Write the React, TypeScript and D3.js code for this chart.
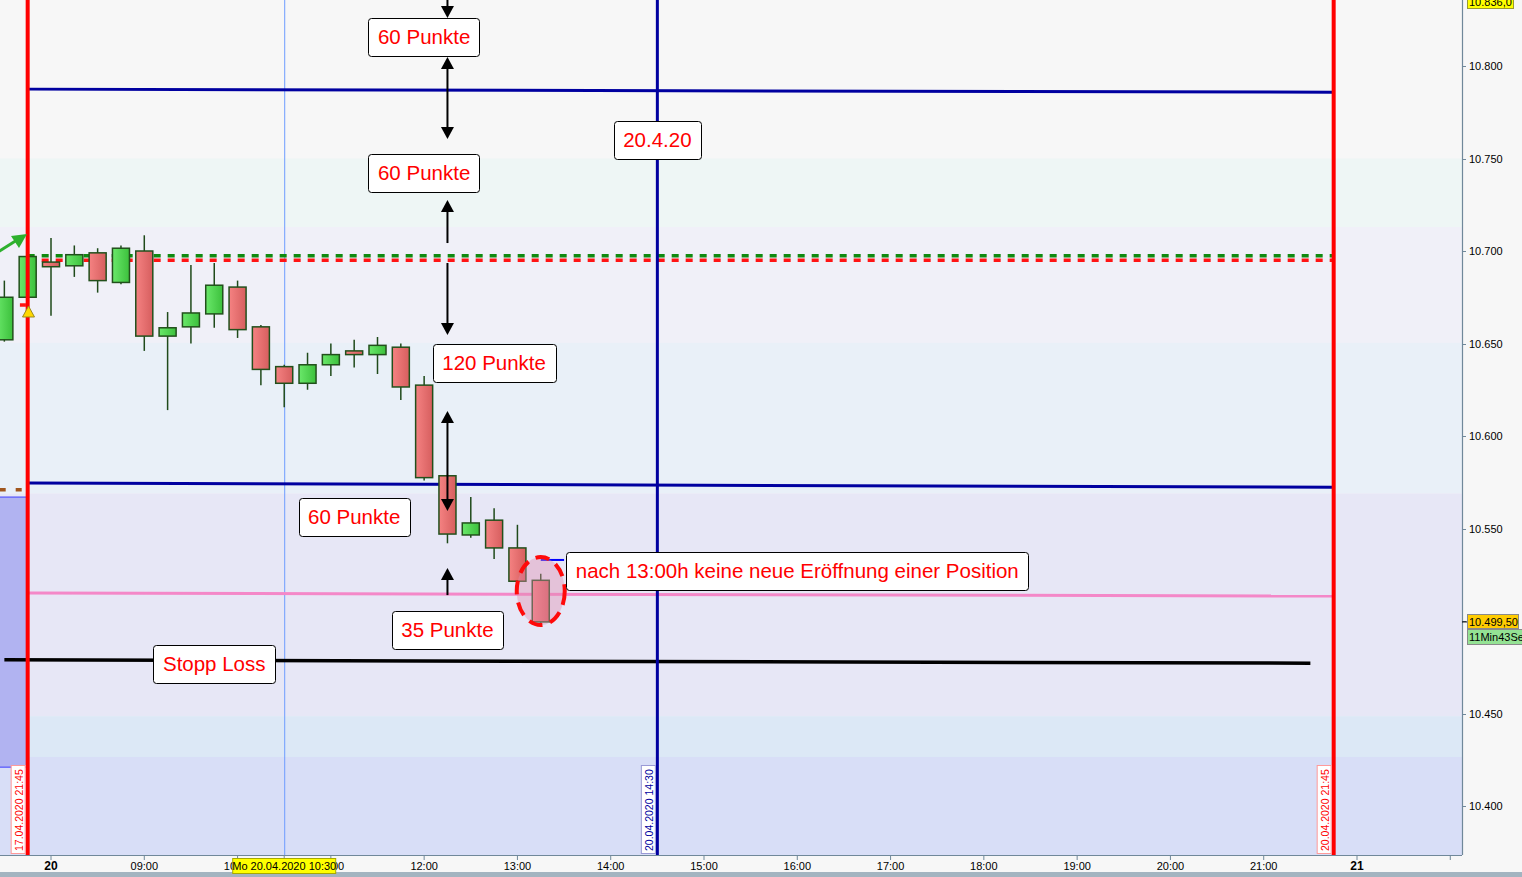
import React, { useMemo } from 'react';
import * as d3 from 'd3';

// ---------- data ----------
const candleTimes = ["07:30","07:45","08:00","08:15","08:30","08:45","09:00","09:15","09:30","09:45","10:00","10:15","10:30","10:45","11:00","11:15","11:30","11:45","12:00","12:15","12:30","12:45","13:00","13:15"];
const opens  = [10652,10675,10694,10692,10699,10683,10700,10654,10659,10666,10680.5,10659,10637.5,10628.5,10638.5,10646,10644,10648,10627.5,10578.5,10546.5,10554.5,10539.5,10522];
const highs  = [10684,10698,10707,10703,10701.5,10703,10708.5,10667,10692.5,10693.5,10684,10660,10638.5,10645,10650,10652,10653.5,10650,10632.5,10579,10567,10561,10552,10525.5];
const lows   = [10651,10674,10665,10686,10677.5,10682,10646,10614,10650,10658.5,10653,10627.5,10615.5,10625,10632.5,10637,10633.5,10619.5,10576,10542,10545,10533.5,10521,10499];
const closes = [10675,10697,10691.5,10698,10684,10701.5,10654,10658.5,10666.5,10681.5,10657.5,10636,10628.5,10638.5,10644,10644,10649,10626.5,10577.5,10547,10553,10539.5,10521.5,10499.5];

const yTicks = [10400,10450,10500,10550,10600,10650,10700,10750,10800];
const hourTicks = ["09:00","10:00","11:00","12:00","13:00","14:00","15:00","16:00","17:00","18:00","19:00","20:00","21:00"];
const dayTicks = [{ time: "08:00", label: "20" }, { time: "22:00", label: "21" }];
const minorTicks = ["23:00"];

const priceBands = [
  { from: 10840, to: 10750, color: "#f7f7f7" },
  { from: 10750, to: 10713, color: "#eef6f5" },
  { from: 10713, to: 10650.3, color: "#f0f0f8" },
  { from: 10650.3, to: 10569, color: "#e9f0f8" },
  { from: 10569, to: 10448.6, color: "#e7e7f6" },
  { from: 10448.6, to: 10426.5, color: "#dce8f6" },
  { from: 10426.5, to: 10360, color: "#d8def7" },
];

const vLines = [
  { time: "07:45", label: "17.04.2020 21:45", color: "#ff0000", text: "#ff0000", border: "#ff9a9a", width: 4 },
  { time: "14:30", label: "20.04.2020 14:30", color: "#0000a0", text: "#0000a0", border: "#9a9ad6", width: 3 },
  { time: "21:45", label: "20.04.2020 21:45", color: "#ff0000", text: "#ff0000", border: "#ff9a9a", width: 4 },
];

const hLines = [
  { t0: "07:45", t1: "21:45", p0: 10787.5, p1: 10785.8, color: "#0000a0", width: 3, dash: "" },
  { t0: "07:45", t1: "21:45", p0: 10574.6, p1: 10572.3, color: "#0000a0", width: 3, dash: "" },
  { t0: "07:45", t1: "21:45", p0: 10515.1, p1: 10513.5, color: "#f488c8", width: 3, dash: "" },
  { t0: "07:30", t1: "21:30", p0: 10479, p1: 10477.2, color: "#000000", width: 3.5, dash: "" },
  { t0: "07:45", t1: "21:45", p0: 10697.5, p1: 10697.5, color: "#108a10", width: 3.5, dash: "7,7" },
  { t0: "07:45", t1: "21:45", p0: 10695, p1: 10695, color: "#ff1414", width: 3.5, dash: "7,7" },
  { t0: "07:31", t1: "07:48", p0: 10670.8, p1: 10670.8, color: "#ff1414", width: 3.5, dash: "6,8" },
  { t0: "07:27", t1: "07:45", p0: 10571, p1: 10571, color: "#a0561e", width: 3.5, dash: "6,10" },
  { t0: "13:15", t1: "13:30", p0: 10533, p1: 10533, color: "#0000ff", width: 2, dash: "" },
];

const annotations = [
  { time: "12:00", price: 10815.7, text: "60 Punkte" },
  { time: "12:00", price: 10742.4, text: "60 Punkte" },
  { time: "14:30", price: 10760, text: "20.4.20" },
  { time: "12:45", price: 10639.2, text: "120 Punkte" },
  { time: "11:15", price: 10556.2, text: "60 Punkte" },
  { time: "12:15", price: 10495.1, text: "35 Punkte" },
  { time: "16:00", price: 10527, text: "nach 13:00h keine neue Eröffnung einer Position" },
  { time: "09:45", price: 10476.8, text: "Stopp Loss" },
];

// arrows: from price p0 (tail or tip) to tip p1; double = heads on both ends
const arrows = [
  { time: "12:15", p0: 10840, p1: 10825.9, double: false },
  { time: "12:15", p0: 10804.9, p1: 10760.5, double: true },
  { time: "12:15", p0: 10704.3, p1: 10727.6, double: false },
  { time: "12:15", p0: 10693.5, p1: 10654.6, double: false },
  { time: "12:15", p0: 10613.5, p1: 10559.5, double: true },
  { time: "12:15", p0: 10514, p1: 10528.6, double: false },
];

const zoneBox = { t0: "07:27", t1: "07:45", p0: 10567, p1: 10421 };
const highlight = { time: "13:15", price: 10516.2 };
const crosshair = { time: "10:30", label: "Mo 20.04.2020 10:30" };
const topPrice = 10836.0;
const lastPrice = 10499.5;
const timerLabel = "11Min43Se";

// ---------- helpers ----------
const toDate = (s: string) => {
  const [h, m] = s.split(":").map(Number);
  return new Date(2020, 3, 20, h, m);
};
const de = d3.formatLocale({ decimal: ",", thousands: ".", grouping: [3], currency: ["", "€"] });
const fmtTick = de.format(",.0f");
const fmt2 = de.format(",.2f");
const fmt1 = de.format(",.1f");

const FONT = "'Liberation Sans', Arial, sans-serif";
const ANN_SIZE = 20.5;

let _ctx: CanvasRenderingContext2D | null = null;
const measure = (text: string, font: string) => {
  if (!_ctx) _ctx = document.createElement("canvas").getContext("2d");
  if (!_ctx) return text.length * 10;
  _ctx.font = font;
  return _ctx.measureText(text).width;
};

export default function App() {
  const W = 1522, H = 877;
  const plotR = 1462, plotB = 855;

  const x = useMemo(() => d3.scaleTime().domain([toDate("08:00"), toDate("22:00")]).range([51, 1357]), []);
  const y = useMemo(() => d3.scaleLinear().domain([10400, 10800]).range([806, 66]), []);

  const step = x(toDate("08:15")) - x(toDate("08:00"));
  const bw = step * 0.73;

  const arrowHead = (xx: number, tip: number, dir: number) => {
    const L = 12, hw = 6.5;
    return `M${xx},${tip} L${xx - hw},${tip - dir * L} L${xx + hw},${tip - dir * L} Z`;
  };

  return (
    <svg width={W} height={H} style={{ position: "absolute", left: 0, top: 0, fontFamily: FONT }}>
      <defs>
        <linearGradient id="gUp" x1="0" x2="1" y1="0" y2="0">
          <stop offset="0" stopColor="#6ae86a" />
          <stop offset="1" stopColor="#3cc03c" />
        </linearGradient>
        <linearGradient id="gDn" x1="0" x2="1" y1="0" y2="0">
          <stop offset="0" stopColor="#f58282" />
          <stop offset="1" stopColor="#d65e5e" />
        </linearGradient>
        <clipPath id="plotClip"><rect x={0} y={0} width={plotR} height={plotB} /></clipPath>
      </defs>

      <rect x={0} y={0} width={W} height={H} fill="#f7f7f7" />
      <rect x={0} y={872} width={W} height={5} fill="#a3b4c0" />

      <g clipPath="url(#plotClip)">
        {priceBands.map((b, i) => (
          <rect key={i} x={0} y={y(b.from)} width={plotR} height={y(b.to) - y(b.from)} fill={b.color} />
        ))}

        <rect x={x(toDate(zoneBox.t0))} y={y(zoneBox.p0)} width={x(toDate(zoneBox.t1)) - x(toDate(zoneBox.t0))}
          height={y(zoneBox.p1) - y(zoneBox.p0)} fill="#b1b3f1" />
        <line x1={x(toDate(zoneBox.t0))} x2={x(toDate(zoneBox.t1))} y1={y(zoneBox.p0)} y2={y(zoneBox.p0)} stroke="#3c3cff" strokeWidth={1} />
        <line x1={x(toDate(zoneBox.t0))} x2={x(toDate(zoneBox.t1))} y1={y(zoneBox.p1)} y2={y(zoneBox.p1)} stroke="#3c3cff" strokeWidth={1} />

        <line x1={x(toDate(crosshair.time)) + 0.5} x2={x(toDate(crosshair.time)) + 0.5} y1={0} y2={plotB} stroke="#6e9cff" strokeWidth={1} />

        {hLines.map((l, i) => (
          <line key={i} x1={x(toDate(l.t0))} x2={x(toDate(l.t1))} y1={y(l.p0)} y2={y(l.p1)}
            stroke={l.color} strokeWidth={l.width} strokeDasharray={l.dash || undefined} />
        ))}

        {candleTimes.map((t, i) => {
          const cx = x(toDate(t));
          const up = closes[i] >= opens[i];
          const top = y(Math.max(opens[i], closes[i]));
          const bot = y(Math.min(opens[i], closes[i]));
          return (
            <g key={t}>
              <line x1={cx} x2={cx} y1={y(highs[i])} y2={y(lows[i])} stroke="#1f4a1a" strokeWidth={1.5} />
              <rect x={cx - bw / 2} y={top} width={bw} height={Math.max(1, bot - top)}
                fill={up ? "url(#gUp)" : "url(#gDn)"} stroke="#22501c" strokeWidth={1.5} />
            </g>
          );
        })}

        <ellipse cx={x(toDate(highlight.time))} cy={y(highlight.price)} rx={24} ry={34}
          fill="rgba(225,140,175,0.4)" stroke="#ff0a0a" strokeWidth={4} strokeDasharray="14,8" />

        {vLines.map((v, i) => {
          const vx = x(toDate(v.time));
          const bx = vx - v.width / 2 - 15;
          return (
            <g key={i}>
              <line x1={vx} x2={vx} y1={0} y2={plotB} stroke={v.color} strokeWidth={v.width} />
              <rect x={bx + 0.5} y={765.5} width={14} height={88} fill="#ffffff" stroke={v.border} strokeWidth={1} />
              <text transform={`translate(${bx + 12},${851}) rotate(-90)`} fontSize={10.5} fill={v.text}>{v.label}</text>
            </g>
          );
        })}

        <line x1={-2} y1={252} x2={17} y2={240} stroke="#2eb02e" strokeWidth={3} />
        <path d="M27,234 L11,236 L19,248 Z" fill="#2eb02e" />
        <path d="M28.5,306 L22.5,317 L34.5,317 Z" fill="#ffd800" stroke="#9a8a20" strokeWidth={1} />

        {arrows.map((a, i) => {
          const ax = x(toDate(a.time));
          const y0 = y(a.p0), y1 = y(a.p1);
          const dir = y1 > y0 ? 1 : -1;
          return (
            <g key={i}>
              <line x1={ax} x2={ax} y1={y0 + (a.double ? dir * 8 : 0)} y2={y1 - dir * 8} stroke="#000" strokeWidth={2} />
              <path d={arrowHead(ax, y1, dir)} fill="#000" />
              {a.double && <path d={arrowHead(ax, y0, -dir)} fill="#000" />}
            </g>
          );
        })}

        {annotations.map((a, i) => {
          const tw = measure(a.text, `${ANN_SIZE}px ${FONT}`);
          const w = tw + 19, h = 38;
          const cx = x(toDate(a.time)), cy = y(a.price);
          return (
            <g key={i}>
              <rect x={Math.round(cx - w / 2) + 0.5} y={Math.round(cy - h / 2) + 0.5} width={Math.round(w)} height={h}
                rx={3} fill="#ffffff" stroke="#000" strokeWidth={1} />
              <text x={cx} y={cy + 7} textAnchor="middle" fontSize={ANN_SIZE} fill="#ff0000">{a.text}</text>
            </g>
          );
        })}
      </g>

      <line x1={0} x2={plotR} y1={plotB + 0.5} y2={plotB + 0.5} stroke="#70889a" strokeWidth={1.2} />
      <line x1={plotR + 0.5} x2={plotR + 0.5} y1={0} y2={plotB} stroke="#70889a" strokeWidth={1.2} />

      {yTicks.map(v => (
        <g key={v}>
          <line x1={plotR} x2={plotR + 4} y1={Math.round(y(v)) + 0.5} y2={Math.round(y(v)) + 0.5} stroke="#70889a" />
          <text x={plotR + 7} y={y(v) + 4} fontSize={11} fill="#000">{fmtTick(v)}</text>
        </g>
      ))}

      {hourTicks.map(t => (
        <g key={t}>
          <line x1={x(toDate(t))} x2={x(toDate(t))} y1={plotB} y2={plotB + 5} stroke="#70889a" />
          <text x={x(toDate(t))} y={870} fontSize={11} textAnchor="middle" fill="#000">{t}</text>
        </g>
      ))}
      {dayTicks.map(d => (
        <g key={d.label}>
          <line x1={x(toDate(d.time))} x2={x(toDate(d.time))} y1={plotB} y2={plotB + 5} stroke="#70889a" />
          <text x={x(toDate(d.time))} y={870} fontSize={12} fontWeight="bold" textAnchor="middle" fill="#000">{d.label}</text>
        </g>
      ))}
      {minorTicks.map(t => (
        <line key={t} x1={x(toDate(t))} x2={x(toDate(t))} y1={plotB} y2={plotB + 5} stroke="#70889a" />
      ))}
      <line x1={x(toDate(crosshair.time))} x2={x(toDate(crosshair.time))} y1={plotB} y2={plotB + 5} stroke="#70889a" />

      <rect x={x(toDate(crosshair.time)) - 51.5} y={858.5} width={103} height={15} fill="#ffff00" stroke="#a8a800" />
      <text x={x(toDate(crosshair.time))} y={870} fontSize={11} textAnchor="middle" fill="#000">{crosshair.label}</text>

      <rect x={1467.5} y={-5.5} width={46} height={14} fill="#ffff00" stroke="#9a9a30" />
      <text x={1469} y={6} fontSize={11} fill="#000">{fmt1(topPrice)}</text>
      <line x1={plotR} x2={plotR + 5} y1={y(lastPrice)} y2={y(lastPrice)} stroke="#000" />
      <rect x={1467.5} y={614.5} width={51} height={14} fill="#ffcc00" stroke="#8a8a8a" />
      <text x={1469} y={626} fontSize={11} fill="#000">{fmt2(lastPrice)}</text>
      <rect x={1467.5} y={629.5} width={60} height={15} fill="#94e294" stroke="#8a8a8a" />
      <text x={1469} y={641} fontSize={11} fill="#000">{timerLabel}</text>
    </svg>
  );
}
